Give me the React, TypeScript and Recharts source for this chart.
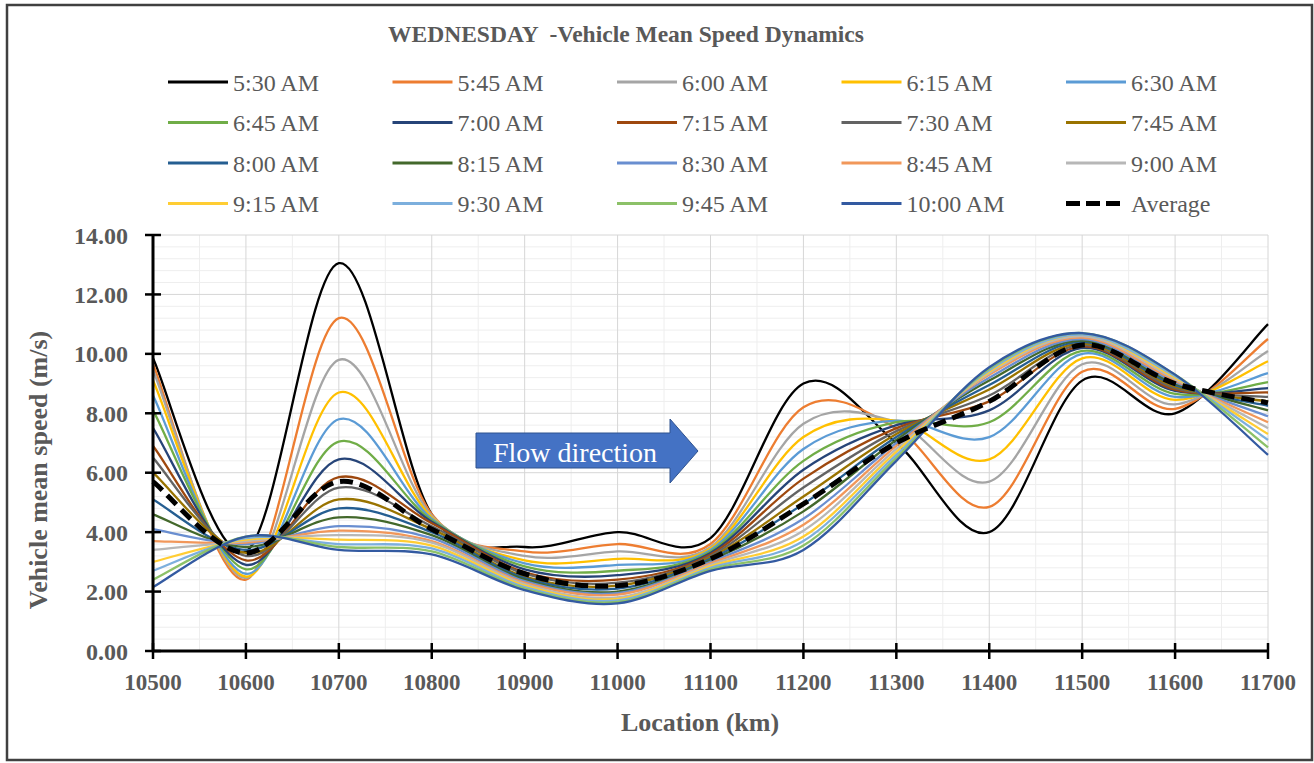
import React from 'react';
import { LineChart, Line, XAxis, YAxis, CartesianGrid } from 'recharts';

// location along the corridor (x categories)
const locations = [10500, 10600, 10700, 10800, 10900, 11000, 11100, 11200, 11300, 11400, 11500, 11600, 11700];

// mean speed per time slice (m/s)
const s0530 = [9.85, 3.35, 13.05, 4.6, 3.5, 4.0, 3.8, 9.0, 7.0, 4.0, 9.1, 8.0, 11.0];
const s0545 = [9.65, 2.4, 11.2, 4.6, 3.35, 3.6, 3.6, 8.2, 7.5, 4.85, 9.4, 8.15, 10.5];
const s0600 = [9.45, 2.45, 9.8, 4.55, 3.2, 3.35, 3.5, 7.65, 7.7, 5.7, 9.65, 8.3, 10.1];
const s0615 = [9.1, 2.5, 8.7, 4.5, 3.05, 3.1, 3.45, 7.2, 7.75, 6.45, 9.85, 8.45, 9.75];
const s0630 = [8.6, 2.6, 7.8, 4.45, 2.95, 2.9, 3.4, 6.8, 7.75, 7.2, 10.0, 8.55, 9.35];
const s0645 = [8.1, 2.75, 7.05, 4.4, 2.85, 2.7, 3.35, 6.4, 7.7, 7.7, 10.1, 8.65, 9.05];
const s0700 = [7.5, 2.9, 6.45, 4.35, 2.75, 2.55, 3.3, 6.1, 7.6, 8.1, 10.2, 8.75, 8.85];
const s0715 = [6.9, 3.05, 5.85, 4.3, 2.65, 2.4, 3.25, 5.8, 7.5, 8.4, 10.25, 8.8, 8.7];
const s0730 = [6.5, 3.2, 5.5, 4.2, 2.6, 2.3, 3.2, 5.5, 7.4, 8.6, 10.3, 8.85, 8.55];
const s0745 = [6.0, 3.3, 5.1, 4.1, 2.5, 2.2, 3.15, 5.2, 7.3, 8.8, 10.35, 8.9, 8.4];
const s0800 = [5.1, 3.4, 4.8, 4.0, 2.45, 2.1, 3.1, 4.95, 7.2, 8.95, 10.4, 8.95, 8.25];
const s0815 = [4.6, 3.5, 4.5, 3.9, 2.4, 2.0, 3.05, 4.7, 7.1, 9.1, 10.45, 9.0, 8.1];
const s0830 = [4.1, 3.6, 4.2, 3.8, 2.35, 1.95, 3.0, 4.45, 7.0, 9.2, 10.5, 9.05, 7.9];
const s0845 = [3.7, 3.65, 4.05, 3.7, 2.3, 1.9, 2.95, 4.25, 6.9, 9.3, 10.55, 9.1, 7.7];
const s0900 = [3.4, 3.7, 3.9, 3.65, 2.25, 1.8, 2.9, 4.05, 6.8, 9.35, 10.6, 9.15, 7.5];
const s0915 = [3.0, 3.75, 3.75, 3.55, 2.2, 1.75, 2.85, 3.85, 6.7, 9.4, 10.65, 9.2, 7.3];
const s0930 = [2.7, 3.8, 3.6, 3.45, 2.15, 1.7, 2.8, 3.7, 6.6, 9.45, 10.65, 9.25, 7.1];
const s0945 = [2.4, 3.85, 3.5, 3.35, 2.1, 1.65, 2.75, 3.55, 6.5, 9.5, 10.7, 9.3, 6.85];
const s1000 = [2.15, 3.85, 3.4, 3.25, 2.05, 1.6, 2.7, 3.4, 6.4, 9.55, 10.7, 9.3, 6.6];
const average = [5.7, 3.3, 5.7, 4.1, 2.6, 2.2, 3.1, 4.95, 7.0, 8.4, 10.3, 9.0, 8.35];

const seriesNames = [
  '5:30 AM', '5:45 AM', '6:00 AM', '6:15 AM', '6:30 AM',
  '6:45 AM', '7:00 AM', '7:15 AM', '7:30 AM', '7:45 AM',
  '8:00 AM', '8:15 AM', '8:30 AM', '8:45 AM', '9:00 AM',
  '9:15 AM', '9:30 AM', '9:45 AM', '10:00 AM',
];
const seriesValues = [
  s0530, s0545, s0600, s0615, s0630, s0645, s0700, s0715, s0730, s0745,
  s0800, s0815, s0830, s0845, s0900, s0915, s0930, s0945, s1000,
];
const seriesColors = [
  '#000000', '#ED7D31', '#A5A5A5', '#FFC000', '#5B9BD5',
  '#70AD47', '#264478', '#9E480E', '#636363', '#997300',
  '#255E91', '#43682B', '#698ED0', '#F1975A', '#B7B7B7',
  '#FFCD33', '#7CAFDD', '#8CC168', '#335AA1',
];

const yTicks = [0, 2, 4, 6, 8, 10, 12, 14];
const yMinor = [0.4, 0.8, 1.2, 1.6, 2.4, 2.8, 3.2, 3.6, 4.4, 4.8, 5.2, 5.6, 6.4, 6.8, 7.2, 7.6,
  8.4, 8.8, 9.2, 9.6, 10.4, 10.8, 11.2, 11.6, 12.4, 12.8, 13.2, 13.6];
const xMinor = [10550, 10650, 10750, 10850, 10950, 11050, 11150, 11250, 11350, 11450, 11550, 11650];

const rows = locations.map((loc, i) => {
  const row: Record<string, number> = { loc, avg: average[i] };
  seriesValues.forEach((vals, k) => { row['s' + k] = vals[i]; });
  return row;
});

const FONT = "'Liberation Serif', 'DejaVu Serif', serif";
const TEXT = '#595959';
const TICK_SIZE = 8;
const Y_MARGIN = 17;
const X_MARGIN = 8;

// Excel-like smoothed line (Catmull-Rom through the points)
const smoothCurve = (context: any) => {
  let pts: number[][] = [];
  return {
    areaStart() {},
    areaEnd() {},
    lineStart() { pts = []; },
    point(x: number, y: number) { pts.push([+x, +y]); },
    lineEnd() {
      if (!pts.length) return;
      context.moveTo(pts[0][0], pts[0][1]);
      for (let i = 0; i < pts.length - 1; i++) {
        const p0 = pts[i - 1] || pts[i];
        const p1 = pts[i];
        const p2 = pts[i + 1];
        const p3 = pts[i + 2] || pts[i + 1];
        context.bezierCurveTo(
          p1[0] + (p2[0] - p0[0]) / 6, p1[1] + (p2[1] - p0[1]) / 6,
          p2[0] - (p3[0] - p1[0]) / 6, p2[1] - (p3[1] - p1[1]) / 6,
          p2[0], p2[1],
        );
      }
    },
  };
};

const YTick = (props: any) => {
  const { x, y, payload } = props;
  const axisX = x + TICK_SIZE + Y_MARGIN;
  return (
    <g>
      <line x1={axisX - 8} x2={axisX + 8} y1={y} y2={y} stroke="#000" strokeWidth={2.5} />
      <text x={x} y={y} dy="0.36em" textAnchor="end" fontFamily={FONT} fontWeight="bold" fontSize={24} fill={TEXT}>
        {Number(payload.value).toFixed(2)}
      </text>
    </g>
  );
};

const XTick = (props: any) => {
  const { x, y, payload } = props;
  const axisY = y - TICK_SIZE - X_MARGIN;
  return (
    <g>
      <line x1={x} x2={x} y1={axisY - 8} y2={axisY + 8} stroke="#000" strokeWidth={2.5} />
      <text x={x} y={axisY + 31} dy="0.36em" textAnchor="middle" fontFamily={FONT} fontWeight="bold" fontSize={23} fill={TEXT}>
        {payload.value}
      </text>
    </g>
  );
};

const Overlay = () => (
  <svg width={1314} height={763} style={{ position: 'absolute', left: 0, top: 0, pointerEvents: 'none' }}>
    <rect x={7} y={5} width={1305} height={755} fill="none" stroke="#404040" strokeWidth={2.5} />
    <text x={626} y={42} textAnchor="middle" fontFamily={FONT} fontWeight="bold" fontSize={23.5} fill={TEXT} style={{ whiteSpace: 'pre' }}>
      {'WEDNESDAY  -Vehicle Mean Speed Dynamics'}
    </text>
    {seriesNames.concat(['Average']).map((name, i) => {
      const col = i % 5;
      const row = Math.floor(i / 5);
      const lx = 168 + col * 224.5;
      const ly = 82 + row * 40.5;
      const isAvg = name === 'Average';
      return (
        <g key={name}>
          <line x1={lx} x2={lx + 60} y1={ly} y2={ly}
            stroke={isAvg ? '#000' : seriesColors[i]}
            strokeWidth={isAvg ? 5 : 3}
            strokeDasharray={isAvg ? '14 6' : undefined} />
          <text x={lx + 65} y={ly} dy="0.36em" fontFamily={FONT} fontSize={24} fill={TEXT}>{name}</text>
        </g>
      );
    })}
    <path d="M476 433 L670 433 L670 419 L698 451 L670 483 L670 468 L476 468 Z" fill="#4472C4" stroke="#2F528F" strokeWidth={1} />
    <text x={493} y={462} fontFamily={FONT} fontSize={28} fill="#FFFFFF">Flow direction</text>
    <text x={700} y={731} textAnchor="middle" fontFamily={FONT} fontWeight="bold" fontSize={26} fill={TEXT}>Location (km)</text>
    <text x={0} y={0} transform="translate(47 470) rotate(-90)" textAnchor="middle" fontFamily={FONT} fontWeight="bold" fontSize={26} fill={TEXT}>
      Vehicle mean speed (m/s)
    </text>
  </svg>
);

const App: React.FC = () => {
  return (
    <div style={{ position: 'absolute', left: 0, top: 0, width: 1314, height: 763, background: '#fff' }}>
      <LineChart width={1314} height={763} data={rows} margin={{ top: 235, right: 46, bottom: 0, left: 0 }}>
        <CartesianGrid horizontalValues={yMinor} verticalValues={xMinor} stroke="#EEEEEE" />
        <CartesianGrid horizontalValues={yTicks} verticalValues={locations} stroke="#D6D6D6" />
        <XAxis
          dataKey="loc"
          type="number"
          domain={[10500, 11700]}
          ticks={locations}
          height={112}
          tickSize={TICK_SIZE}
          tickMargin={X_MARGIN}
          tickLine={false}
          axisLine={{ stroke: '#000', strokeWidth: 3 }}
          tick={<XTick />}
          interval={0}
        />
        <YAxis
          type="number"
          domain={[0, 14]}
          ticks={yTicks}
          width={153}
          tickSize={TICK_SIZE}
          tickMargin={Y_MARGIN}
          tickLine={false}
          axisLine={{ stroke: '#000', strokeWidth: 3 }}
          tick={<YTick />}
          interval={0}
        />
        {seriesNames.map((name, k) => (
          <Line
            key={name}
            dataKey={'s' + k}
            name={name}
            type={smoothCurve as any}
            stroke={seriesColors[k]}
            strokeWidth={2.3}
            dot={false}
            activeDot={false}
            isAnimationActive={false}
          />
        ))}
        <Line
          dataKey="avg"
          name="Average"
          type={smoothCurve as any}
          stroke="#000"
          strokeWidth={5}
          strokeDasharray="13 7"
          dot={false}
          activeDot={false}
          isAnimationActive={false}
        />
      </LineChart>
      <Overlay />
    </div>
  );
};

export default App;
